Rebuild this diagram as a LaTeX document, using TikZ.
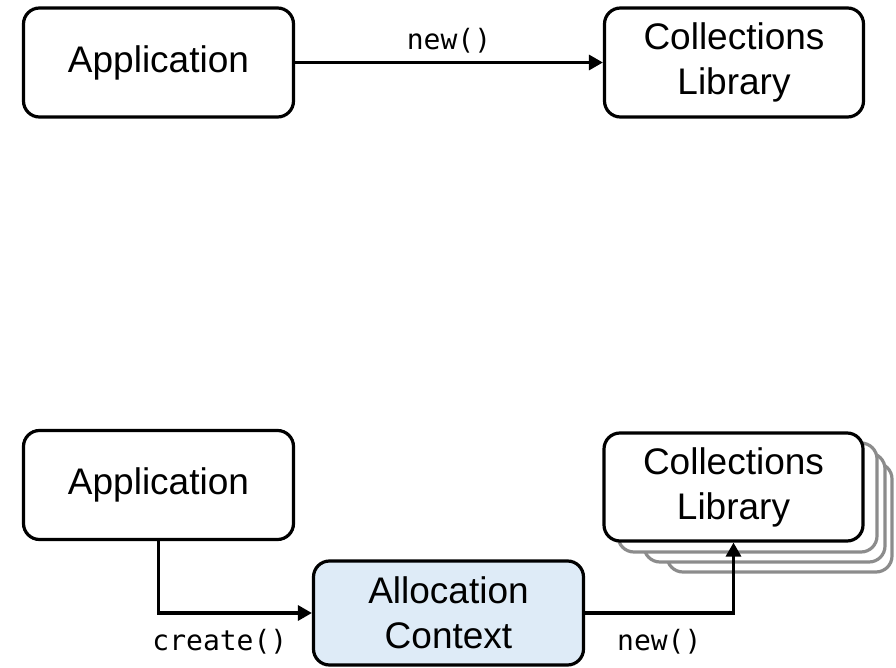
\documentclass[tikz,border=0pt]{standalone}
\usepackage{fontspec}
\setmainfont{Liberation Sans}
\newfontfamily\codefont{DejaVu Sans Mono}
\usetikzlibrary{arrows.meta}
\definecolor{ctxblue}{RGB}{222,235,247}
\definecolor{stackgray}{RGB}{140,140,140}
\begin{document}
\begin{tikzpicture}[x=1pt,y=-1pt,line width=3.2pt,>={Triangle[length=14pt,width=15pt]},
	box/.style={draw,rounded corners=16pt,fill=white,align=center,inner sep=0pt,minimum width=270pt,minimum height=109pt,font=\fontsize{37}{45}\selectfont},
	call/.style={font=\codefont\fontsize{28}{32}\selectfont},
	stack/.style={draw=stackgray,fill=white,rounded corners=16pt}]
		\useasboundingbox (0,0) rectangle (896,668);
		% without context
		\node[box] (app1) at (158.5,62.5){Application};
		\node[box,minimum width=259pt] (lib1) at (734,62.5){Collections\\Library};
		\draw[->] (app1) -- (lib1) node[midway,above=4pt,call]{new()};
		% with allocation context
		\draw[stack] (667,463) rectangle (892,572);
		\draw[stack] (644,453) rectangle (885,562);
		\draw[stack] (618,443) rectangle (877,552);
		\node[box] (app2) at (158.5,485){Application};
		\node[box,minimum width=259pt,minimum height=108pt] (lib2) at (733.5,487){Collections\\Library};
		\node[box,fill=ctxblue,minimum height=104pt] (ctx) at (448.5,613){Allocation\\Context};
		\draw[->] (app2.south) |- (ctx.west) node[pos=0.7,below=11pt,call]{create()};
		\draw[->] (ctx.east) -| (lib2.south) node[pos=0.25,below=11pt,call]{new()};
		\end{tikzpicture}
\end{document}
